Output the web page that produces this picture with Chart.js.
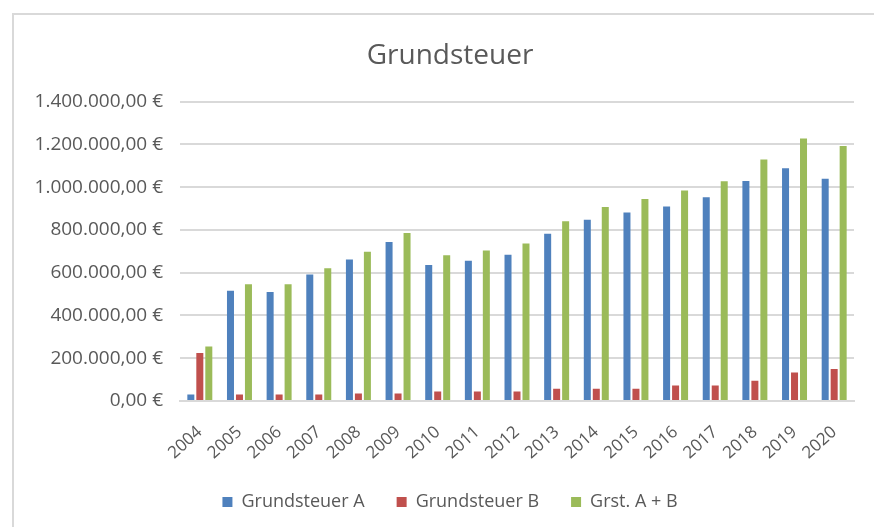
<!DOCTYPE html>
<html>
<head>
<meta charset="utf-8">
<script src="https://cdn.jsdelivr.net/npm/chart.js@4"></script>
<style>
    html, body { margin: 0; padding: 0; background: #fff; }
    #wrap { position: relative; width: 874px; height: 527px; overflow: hidden; }
    #frame { position: absolute; left: 12px; top: 13px; width: 900px; height: 600px;
             border-left: 2px solid #d9d9d9; border-top: 2px solid #d9d9d9; }
    #chart { position: absolute; left: 0; top: 0; }
</style>
</head>
<body>
<div id="wrap">
    <div id="frame"></div>
    <canvas id="chart" width="874" height="527"></canvas>
</div>
<script>
const years = ['2004', '2005', '2006', '2007', '2008', '2009', '2010', '2011', '2012',
    '2013', '2014', '2015', '2016', '2017', '2018', '2019', '2020'];
const grundsteuerA = [30000, 515000, 510000, 592000, 662000, 744000, 636000, 656000, 684000,
    782000, 848000, 882000, 909000, 953000, 1029000, 1088000, 1039000];
const grundsteuerB = [225000, 30000, 30000, 30000, 35000, 35000, 45000, 45000, 45000,
    57000, 57000, 57000, 73000, 73000, 95000, 133000, 150000];
const grstAB = [255000, 546000, 546000, 621000, 698000, 785000, 682000, 704000, 736000,
    841000, 907000, 945000, 984000, 1027000, 1129000, 1228000, 1192000];
const yTicks = [0, 200000, 400000, 600000, 800000, 1000000, 1200000, 1400000];

const textColor = '#595959';
const gridColor = '#d9d9d9';
const fontFamily = '"Open Sans", "Noto Sans", sans-serif';

function euro(v) {
    const s = Math.round(v).toString().replace(/\B(?=(\d{3})+(?!\d))/g, '.');
    return s + ',00 €';
}

// the y labels are wider than the left box, so don't let the scale clip them
const unclipY = {
    id: 'unclipY',
    afterLayout(chart) {
        chart.scales.y.left = 0;
    }
};

const ctx = document.getElementById('chart').getContext('2d');
new Chart(ctx, {
    type: 'bar',
    data: {
        labels: years,
        datasets: [
            { label: 'Grundsteuer A', data: grundsteuerA, backgroundColor: '#4f81bd' },
            { label: 'Grundsteuer B', data: grundsteuerB, backgroundColor: '#c0504d' },
            { label: 'Grst. A + B', data: grstAB, backgroundColor: '#9bbb59' }
        ]
    },
    plugins: [unclipY],
    options: {
        responsive: false,
        animation: false,
        layout: { padding: { left: 46, right: 20, top: 0, bottom: 6 } },
        datasets: {
            bar: { categoryPercentage: 0.68, barPercentage: 0.78 }
        },
        scales: {
            x: {
                grid: { display: false, drawTicks: false },
                border: { display: true, color: gridColor, width: 2 },
                ticks: {
                    color: textColor,
                    font: { family: fontFamily, size: 17 },
                    minRotation: 42,
                    maxRotation: 42,
                    padding: 21,
                    autoSkip: false
                },
                afterFit: function(scale) { scale.height = 60; }
            },
            y: {
                min: 0,
                max: 1400000,
                afterBuildTicks: function(scale) {
                    scale.ticks = yTicks.map(v => ({ value: v }));
                },
                grid: { color: gridColor, lineWidth: 2, drawTicks: false },
                border: { display: false },
                ticks: {
                    color: textColor,
                    font: { family: fontFamily, size: 19 },
                    padding: 17,
                    callback: function(value) { return euro(value); }
                },
                afterFit: function(scale) { scale.width = 134; }
            }
        },
        plugins: {
            title: {
                display: true,
                text: 'Grundsteuer',
                color: textColor,
                font: { family: fontFamily, size: 28, weight: 'normal' },
                padding: { top: 39, bottom: 29 }
            },
            legend: {
                position: 'bottom',
                labels: {
                    color: textColor,
                    font: { family: fontFamily, size: 18 },
                    boxWidth: 10,
                    boxHeight: 10,
                    padding: 32
                }
            },
            tooltip: { enabled: false }
        }
    }
});
</script>
</body>
</html>
